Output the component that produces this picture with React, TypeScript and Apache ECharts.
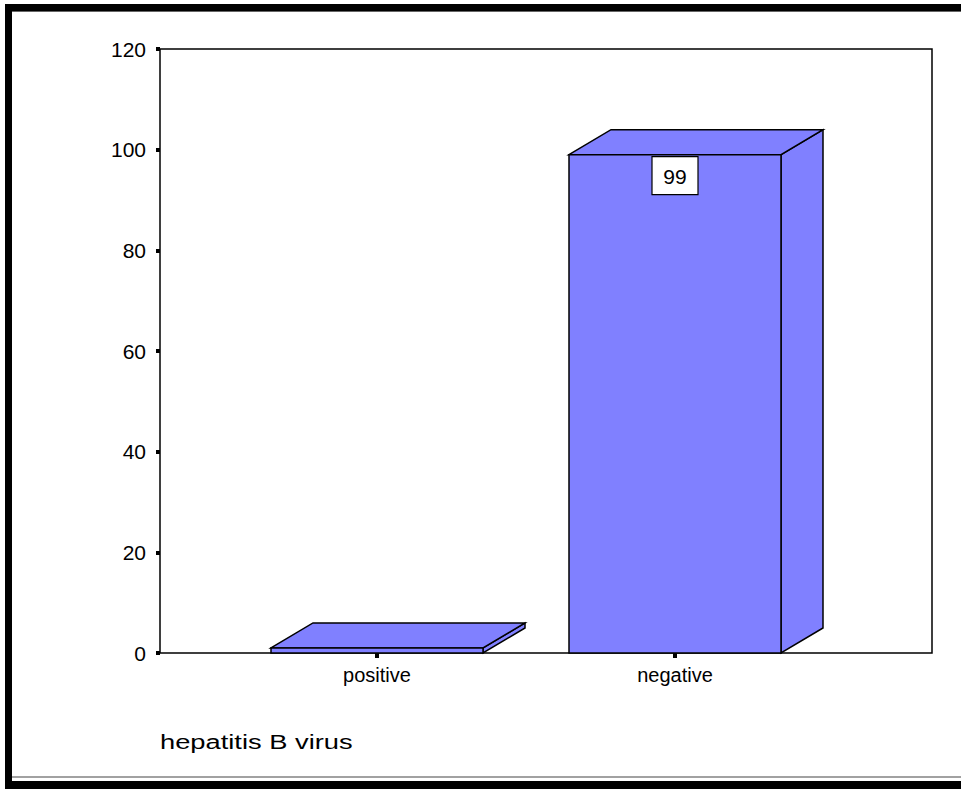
import React, { useEffect, useRef } from "react";
import * as echarts from "echarts";

const categories = ["positive", "negative"];
const counts = [1, 99];
const yTicks = { min: 0, max: 120, interval: 20 };
const xTitle = "hepatitis B virus";

const FONT = 'Arial, "Liberation Sans", sans-serif';
const BAR_FILL = "#8080FF";
const BAR_W = 212;
const DEPTH_X = 42;
const DEPTH_Y = 25;

export default function App() {
  const ref = useRef<HTMLDivElement>(null);
  useEffect(() => {
    if (!ref.current) return;
    const chart = echarts.init(ref.current, null, { renderer: "svg" });
    const renderItem = (params: any, api: any) => {
      const v = api.value(1);
      const base = api.coord([api.value(0), 0]);
      const top = api.coord([api.value(0), v]);
      const cx = top[0];
      const x0 = cx - BAR_W / 2;
      const x1 = cx + BAR_W / 2;
      const yT = top[1];
      const yB = base[1];
      const style = { fill: BAR_FILL, stroke: "#000", lineWidth: 1.5 };
      const children: any[] = [
        {
          type: "polygon",
          shape: { points: [[x1, yT], [x1 + DEPTH_X, yT - DEPTH_Y], [x1 + DEPTH_X, yB - DEPTH_Y], [x1, yB]] },
          style,
        },
        {
          type: "polygon",
          shape: { points: [[x0, yT], [x0 + DEPTH_X, yT - DEPTH_Y], [x1 + DEPTH_X, yT - DEPTH_Y], [x1, yT]] },
          style,
        },
        { type: "rect", shape: { x: x0, y: yT, width: BAR_W, height: yB - yT }, style },
      ];
      if (yB - yT > 50) {
        children.push({
          type: "rect",
          shape: { x: cx - 23, y: yT + 2, width: 46, height: 38 },
          style: { fill: "#fff", stroke: "#000", lineWidth: 1.2 },
        });
        children.push({
          type: "text",
          style: {
            text: String(v),
            x: cx,
            y: yT + 22,
            align: "center",
            verticalAlign: "middle",
            fontSize: 21,
            fontFamily: FONT,
            fill: "#000",
          },
        });
      }
      return { type: "group", children };
    };
    chart.setOption({
      animation: false,
      backgroundColor: "#fff",
      grid: [
        { left: 160, top: 49, width: 772, height: 604, show: true, borderColor: "#000", borderWidth: 1.5, backgroundColor: "transparent" },
        { left: 228, top: 49, width: 596, height: 604 },
      ],
      xAxis: [
        { gridIndex: 0, type: "value", show: false, min: 0, max: 1 },
        {
          gridIndex: 1,
          type: "category",
          data: categories,
          axisLine: { show: false },
          axisTick: { show: true, alignWithLabel: true, length: 5, lineStyle: { color: "#000", width: 4 } },
          axisLabel: { color: "#000", fontSize: 20, fontFamily: FONT, margin: 12 },
          splitLine: { show: false },
        },
      ],
      yAxis: [
        {
          gridIndex: 0,
          type: "value",
          min: yTicks.min,
          max: yTicks.max,
          interval: yTicks.interval,
          axisLine: { show: false },
          axisTick: { show: true, length: 4, lineStyle: { color: "#000", width: 4 } },
          axisLabel: { color: "#000", fontSize: 21, fontFamily: FONT, margin: 14 },
          splitLine: { show: false },
        },
        { gridIndex: 1, type: "value", min: yTicks.min, max: yTicks.max, show: false },
      ],
      graphic: [
        { type: "rect", shape: { x: 5, y: 4, width: 7, height: 785 }, style: { fill: "#000" } },
        { type: "rect", shape: { x: 5, y: 4, width: 960, height: 7 }, style: { fill: "#000" } },
        { type: "rect", shape: { x: 5, y: 781, width: 960, height: 8 }, style: { fill: "#000" } },
        { type: "line", shape: { x1: 12, y1: 11.5, x2: 961, y2: 11.5 }, style: { stroke: "#666", lineWidth: 1 } },
        { type: "line", shape: { x1: 12, y1: 777, x2: 961, y2: 777 }, style: { stroke: "#444", lineWidth: 1.2 } },
        {
          type: "text",
          x: 160,
          y: 742,
          scaleX: 1.3,
          style: { text: xTitle, fontSize: 21, fontFamily: FONT, fill: "#000", verticalAlign: "middle" },
        },
      ],
      series: [
        {
          type: "custom",
          xAxisIndex: 1,
          yAxisIndex: 1,
          clip: false,
          renderItem,
          data: categories.map((c, i) => [i, counts[i]]),
        },
      ],
    });
    return () => chart.dispose();
  }, []);
  return (
    <div
      ref={ref}
      style={{ position: "fixed", left: 0, top: 0, width: 961, height: 789, background: "#fff" }}
    />
  );
}
